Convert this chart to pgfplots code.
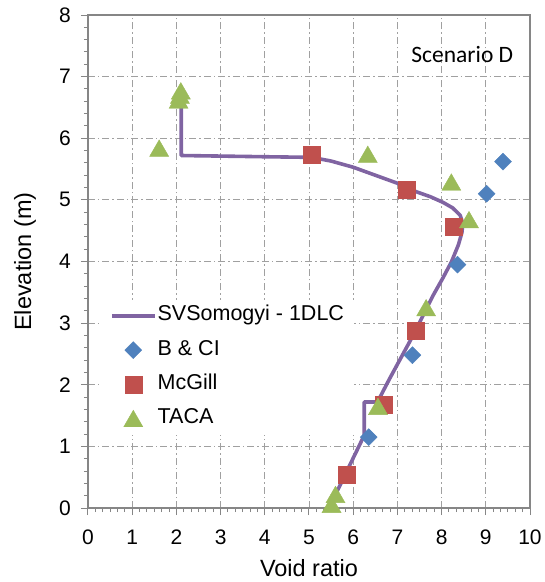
\documentclass[border=0pt]{standalone}
\usepackage{fontspec}
\setmainfont{Liberation Sans}
\newfontfamily\carlito{Carlito}
\usepackage{pgfplots}
\pgfplotsset{compat=1.18}

\definecolor{svline}{HTML}{8064A2}
\definecolor{bcblue}{HTML}{4F81BD}
\definecolor{mcred}{HTML}{C0504D}
\definecolor{tacagreen}{HTML}{9BBB59}
\definecolor{axisgray}{HTML}{868686}
\definecolor{gridgray}{HTML}{A0A0A0}

% legend images 43pt long
\pgfplotsset{
  lineleg/.style={legend image code/.code={\draw[##1] (0pt,0pt) -- (43pt,0pt);}},
  markleg/.style={legend image code/.code={\draw[mark repeat=2,mark phase=2,##1] plot coordinates {(0pt,0pt) (21.5pt,0pt) (43pt,0pt)};}},
}

\begin{document}
\begin{tikzpicture}
\useasboundingbox (-88pt,-74pt) rectangle (457pt,508pt);
\begin{axis}[
  at={(0pt,0pt)}, anchor=south west,
  width=442pt, height=493pt, scale only axis,
  xmin=0, xmax=10, ymin=0, ymax=8,
  xtick={0,...,10}, ytick={0,...,8},
  minor x tick num=5, minor y tick num=4,
  tick align=outside,
  xtick pos=bottom, ytick pos=left,
  major tick length=7pt, minor tick length=4pt,
  axis line style={axisgray, line width=1.4pt},
  every tick/.style={axisgray, line width=1pt},
  grid=major,
  major grid style={gridgray, line width=0.9pt, dash pattern=on 7pt off 3pt on 1.5pt off 3pt},
  /pgf/number format/assume math mode=true,
  tick label style={font=\fontsize{21}{25}\selectfont, black},
  xticklabel style={anchor=north, inner sep=0pt, yshift=-15pt},
  yticklabel style={anchor=east, inner sep=0pt, xshift=-10pt},
  xlabel={Void ratio}, ylabel={Elevation (m)},
  every axis x label/.style={at={(axis description cs:0.5,0)}, yshift=-60pt, anchor=center,
    font=\fontsize{23.5}{28}\selectfont},
  every axis y label/.style={at={(axis description cs:0,0.5)}, xshift=-63pt, rotate=90, anchor=center,
    font=\fontsize{23.5}{28}\selectfont},
  clip=false,
  legend style={
    at={(axis cs:0.29,3.38)}, anchor=north west,
    fill=white, draw=none,
    font=\fontsize{21.5}{25}\selectfont,
    inner xsep=9pt, inner ysep=5pt,
    row sep=12.2pt,
    nodes={inner ysep=0pt, inner xsep=1pt, text height=16pt, text depth=6pt},
  },
  legend cell align=left,
]

% one-dimensional large-strain consolidation profile
\addplot[svline, line width=3.6pt, line join=round, no marks, lineleg]
  coordinates {
  (5.52,0.10) (6.25,1.18) (6.25,1.72) (6.55,1.72) (6.81,2.08)
  (7.40,2.86) (7.55,3.08) (7.80,3.44) (8.02,3.72) (8.22,3.99)
  (8.38,4.27) (8.46,4.47) (8.48,4.62) (8.42,4.75) (8.25,4.87)
  (8.03,4.96) (7.75,5.05) (7.20,5.19) (7.00,5.27) (6.50,5.40)
  (6.00,5.53) (5.50,5.63) (5.06,5.69) (4.00,5.70) (2.11,5.72)
  (2.11,6.70)
  };
\addlegendentry{SVSomogyi - 1DLC}

\addplot[only marks, mark=square*, mark size=6pt,
  mark options={rotate=45, draw=bcblue, fill=bcblue}, markleg]
  coordinates {(9.39,5.62) (9.02,5.10) (8.36,3.95) (7.34,2.48) (6.35,1.15)};
\addlegendentry{B \& CI}

\addplot[only marks, mark=square*, mark size=8.5pt,
  mark options={draw=mcred, fill=mcred}, markleg]
  coordinates {(5.07,5.73) (7.21,5.16) (8.27,4.56) (7.41,2.88) (6.70,1.68) (5.85,0.54)};
\addlegendentry{McGill}

\addplot[only marks, mark=triangle*, mark size=11pt,
  mark options={draw=tacagreen, fill=tacagreen, yshift=-2.75pt}, markleg]
  coordinates {(2.05,6.62) (2.08,6.70) (2.10,6.77) (1.61,5.84) (6.33,5.74)
    (8.22,5.29) (8.62,4.68) (7.65,3.25) (6.56,1.65) (5.60,0.22) (5.51,0.06)};
\addlegendentry{TACA}

\node[anchor=base east, font=\carlito\fontsize{23.5}{28}\selectfont] at (axis cs:9.7,7.23) {Scenario D};
\end{axis}
\end{tikzpicture}
\end{document}
